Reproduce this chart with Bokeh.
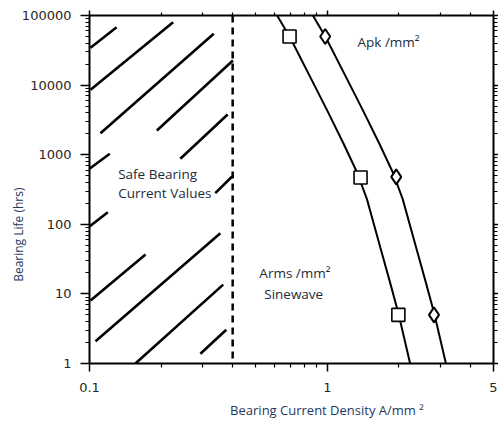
from bokeh.plotting import figure
from bokeh.models import LogAxis, FixedTicker, Span, Label, NumeralTickFormatter
from bokeh.embed import file_html
from bokeh.resources import INLINE

# ---- data ----
x_range = (0.1, 5)
y_range = (1, 100000)
safe_limit = 0.4

x_major = [0.1, 1, 5]
x_labels = {0.1: "0.1", 1: "1", 5: "5"}
x_minor = [0.2, 0.3, 0.4, 0.5, 0.6, 0.7, 0.8, 0.9, 2, 3, 4]
y_major = [1, 10, 100, 1000, 10000, 100000]
y_minor = [m * d for d in [1, 10, 100, 1000, 10000] for m in range(2, 10)]

# Arms/mm2 (square markers) curve
arms_x = [0.615, 0.694, 0.848, 1.0, 1.171, 1.333, 1.468, 1.67, 1.82, 1.99, 2.23]
arms_y = [100000, 50000, 13000, 4300, 1435, 560, 230, 46.9, 16.3, 5.3, 1]
arms_mx = [0.694, 1.38, 1.99]
arms_my = [50000, 470, 5]

# Apk/mm2 (diamond markers) curve
apk_x = [0.870, 0.981, 1.199, 1.414, 1.656, 1.885, 2.076, 2.362, 2.574, 2.814, 3.154]
apk_y = [100000, 50000, 13000, 4300, 1435, 560, 230, 46.9, 16.3, 5.3, 1]
apk_mx = [0.98, 1.95, 2.81]
apk_my = [50000, 480, 5]

# hatching segments of the "safe" region
hatch_x0 = [0.101, 0.101, 0.1112, 0.192, 0.241, 0.1, 0.338, 0.1, 0.101, 0.106, 0.156, 0.2927]
hatch_y0 = [34360, 8560, 2037, 2228, 873, 627, 280, 93, 8.04, 2.09, 1.0, 1.38]
hatch_x1 = [0.130, 0.2247, 0.333, 0.401, 0.381, 0.1217, 0.398, 0.1194, 0.172, 0.355, 0.365, 0.376]
hatch_y1 = [67900, 80100, 54600, 22550, 3782, 1030, 486, 149, 36.8, 74.5, 13.6, 3.05]

text_color = "#1e2a3a"
label_color = "#1f3a5f"
NB = "\u00a0"

p = figure(width=498, height=422, x_axis_type="log", y_axis_type="log",
           x_range=x_range, y_range=y_range, output_backend="svg",
           toolbar_location=None, min_border_left=89, min_border_right=5,
           min_border_top=15, min_border_bottom=59)
p.grid.visible = False
p.outline_line_color = None
p.background_fill_color = "white"
p.border_fill_color = "white"

def style_axis(ax, labels=True, major_out=8, minor_out=4):
    ax.axis_line_width = 2
    ax.axis_line_color = "black"
    ax.major_tick_line_width = 1.5
    ax.minor_tick_line_width = 1.2
    ax.major_tick_line_color = "black"
    ax.minor_tick_line_color = "black"
    ax.major_tick_in = 0
    ax.minor_tick_in = 0
    ax.major_tick_out = major_out
    ax.minor_tick_out = minor_out
    ax.major_label_text_font = "DejaVu Sans"
    ax.major_label_text_color = "#2a2520"
    if labels:
        ax.major_label_text_font_size = "13px"
    else:
        ax.major_label_text_font_size = "1px"
        ax.major_label_text_alpha = 0
        ax.major_label_standoff = 0

p.xaxis.ticker = FixedTicker(ticks=x_major, minor_ticks=x_minor)
p.xaxis.major_label_overrides = x_labels
p.yaxis.ticker = FixedTicker(ticks=y_major, minor_ticks=y_minor)
p.yaxis.formatter = NumeralTickFormatter(format="0")
style_axis(p.xaxis[0])
style_axis(p.yaxis[0], major_out=9)
p.xaxis.major_label_standoff = 11
p.yaxis.major_label_standoff = 9

for ax in (p.xaxis[0], p.yaxis[0]):
    ax.axis_label_text_font = "Open Sans"
    ax.axis_label_text_font_style = "normal"
    ax.axis_label_text_color = label_color
p.xaxis.axis_label = NB * 21 + "Bearing Current Density A/mm ²"
p.xaxis.axis_label_text_font_size = "13px"
p.xaxis.axis_label_standoff = 6
p.yaxis.axis_label = "Bearing Life (hrs)" + NB * 29
p.yaxis.axis_label_text_font_size = "12px"
p.yaxis.axis_label_standoff = -8

top = LogAxis(ticker=FixedTicker(ticks=x_major, minor_ticks=x_minor))
style_axis(top, labels=False, major_out=5, minor_out=3)
p.add_layout(top, "above")
right = LogAxis(ticker=FixedTicker(ticks=y_major, minor_ticks=y_minor))
style_axis(right, labels=False, major_out=5, minor_out=4)
p.add_layout(right, "right")

# hatching
p.segment(x0=hatch_x0, y0=hatch_y0, x1=hatch_x1, y1=hatch_y1,
          line_color="black", line_width=2.6)

# safe limit dashed line
p.add_layout(Span(location=safe_limit, dimension="height", line_color="black",
                  line_width=2.5, line_dash="7 5"))

# curves
p.line(arms_x, arms_y, line_color="black", line_width=2)
p.line(apk_x, apk_y, line_color="black", line_width=2)
p.scatter(arms_mx, arms_my, marker="square", size=13, fill_color="white",
          line_color="black", line_width=1.6)
p.scatter(apk_mx, apk_my, marker="diamond", size=15, fill_color="white",
          line_color="black", line_width=2)

def add_text(x, y, t, **kw):
    opts = dict(text_font="Open Sans", text_font_size="13.5px", text_color=text_color)
    opts.update(kw)
    p.add_layout(Label(x=x, y=y, text=t, **opts))

add_text(0.132, 389, "Safe Bearing")
add_text(0.132, 208, "Current Values")
add_text(1.34, 31400, "Apk /mm²")
add_text(0.518, 14.7, "Arms /mm²")
add_text(0.543, 7.35, "Sinewave")

open("out.html", "w").write(file_html(p, INLINE))
